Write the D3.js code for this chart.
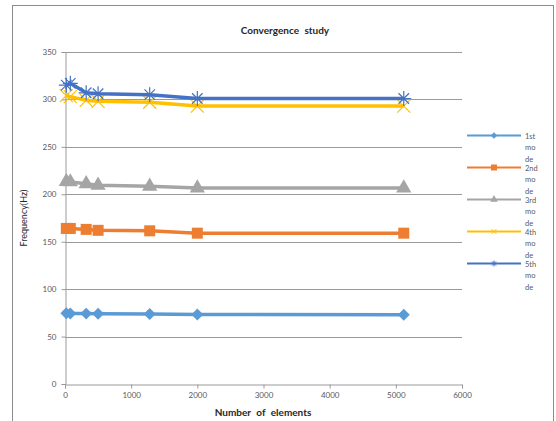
<!DOCTYPE html>
<html>
<head>
<meta charset="utf-8">
<script src="https://cdn.jsdelivr.net/npm/d3@7"></script>
<style>
  body { margin: 0; background: #fff; }
  text { font-family: Lato, "Open Sans", sans-serif; }
</style>
</head>
<body>
<div id="chart"></div>
<script>
const width = 556, height = 421;

// data
const elements = [20, 80, 320, 500, 1280, 2000, 5120];
const mode1 = [74.5, 74.4, 74.2, 74, 73.8, 73.2, 73];
const mode2 = [164, 164, 163, 162, 161.5, 159, 159];
const mode3 = [213.5, 213, 211, 209.5, 208.5, 206.5, 206.5];
const mode4 = [304, 303, 299, 298, 297, 293, 293];
const mode5 = [315, 317, 307, 306, 305, 301, 301];
const seriesNames = ["1st mode", "2nd mode", "3rd mode", "4th mode", "5th mode"];
const seriesColors = ["#5b9bd5", "#ed7d31", "#a5a5a5", "#ffc000", "#4472c4"];
const seriesShapes = ["diamond", "square", "triangle", "x", "star"];
const xTicks = [0, 1000, 2000, 3000, 4000, 5000, 6000];
const yTicks = [0, 50, 100, 150, 200, 250, 300, 350];

const allValues = [mode1, mode2, mode3, mode4, mode5];

const margin = {left: 65, top: 52, right: 94, bottom: 37};

const x = d3.scaleLinear().domain([0, 6000]).range([margin.left, width - margin.right]);
const y = d3.scaleLinear().domain([0, 350]).range([height - margin.bottom, margin.top]);

const svg = d3.select("#chart").append("svg")
    .attr("width", width)
    .attr("height", height);

// outer chart border
svg.append("rect")
    .attr("x", 12.5).attr("y", 5.5)
    .attr("width", 541).attr("height", 430)
    .attr("fill", "none")
    .attr("stroke", "#8c8c8c")
    .attr("stroke-width", 1);

// gridlines
svg.append("g")
  .selectAll("line")
  .data(yTicks.slice(1))
  .enter().append("line")
    .attr("x1", x(0)).attr("x2", x(6000))
    .attr("y1", d => Math.round(y(d)) + 0.5)
    .attr("y2", d => Math.round(y(d)) + 0.5)
    .attr("stroke", "#9a9a9a")
    .attr("stroke-width", 1);

// axes
const xAxis = svg.append("g")
    .attr("transform", "translate(0," + (Math.round(y(0)) + 0.5) + ")")
    .call(d3.axisBottom(x).tickValues(xTicks).tickSize(4).tickPadding(4).tickFormat(d3.format("d")));

const yAxis = svg.append("g")
    .attr("transform", "translate(" + (Math.round(x(0)) + 0.5) + ",0)")
    .call(d3.axisLeft(y).tickValues(yTicks).tickSize(4).tickPadding(5));

[xAxis, yAxis].forEach(function(g) {
  g.select(".domain").attr("stroke", "#9a9a9a");
  g.selectAll(".tick line").attr("stroke", "#9a9a9a");
  g.selectAll(".tick text")
    .attr("fill", "#595959")
    .style("font-size", "8px");
});

// marker shapes
function marker(shape, size) {
  switch (shape) {
    case "diamond":
      return d3.symbol().type(d3.symbolDiamond2).size(size * size * 0.75)();
    case "square":
      return d3.symbol().type(d3.symbolSquare).size(size * size)();
    case "triangle":
      return d3.symbol().type(d3.symbolTriangle).size(size * size * 0.7)();
    case "x":
      return d3.symbol().type(d3.symbolX).size(size * size * 0.5)();
    default: {
      const r = size / 2;
      return "M" + (-r) + ",0L" + r + ",0M" + (-r * 0.7) + "," + (-r * 0.7) + "L" + (r * 0.7) + "," + (r * 0.7)
        + "M" + (-r * 0.7) + "," + (r * 0.7) + "L" + (r * 0.7) + "," + (-r * 0.7)
        + "M0," + (-r) + "L0," + r;
    }
  }
}
const markerSize = [11, 11, 12, 15, 15];

const line = d3.line()
    .x(d => x(d[0]))
    .y(d => y(d[1]));

allValues.forEach(function(vals, i) {
  const pts = elements.map((e, j) => [e, vals[j]]);
  const g = svg.append("g");
  g.append("path")
    .datum(pts)
    .attr("d", line)
    .attr("fill", "none")
    .attr("stroke", seriesColors[i])
    .attr("stroke-width", 3.5)
    .attr("stroke-linejoin", "round");
  const stroked = seriesShapes[i] === "x" || seriesShapes[i] === "star";
  g.selectAll("path.mk")
    .data(pts)
    .enter().append("path")
    .attr("class", "mk")
    .attr("transform", d => "translate(" + x(d[0]) + "," + y(d[1]) + ")")
    .attr("d", marker(seriesShapes[i], markerSize[i]))
    .attr("fill", stroked ? "none" : seriesColors[i])
    .attr("stroke", seriesColors[i])
    .attr("stroke-width", stroked ? 1.2 : 0);
});

// title
svg.append("text")
    .attr("x", 285).attr("y", 34)
    .attr("text-anchor", "middle")
    .style("font-weight", "bold")
    .style("font-size", "10px")
    .attr("fill", "#262626")
    .attr("word-spacing", "3px")
    .text("Convergence study");

svg.append("text")
    .attr("x", 263).attr("y", 416)
    .attr("text-anchor", "middle")
    .style("font-weight", "bold")
    .style("font-size", "10px")
    .attr("fill", "#262626")
    .attr("word-spacing", "3px")
    .text("Number of elements");

svg.append("text")
    .attr("transform", "translate(27,218) rotate(-90)")
    .attr("text-anchor", "middle")
    .style("font-size", "9px")
    .attr("fill", "#262626")
    .text("Frequency(Hz)");

// legend
const legend = svg.append("g");
seriesNames.forEach(function(name, i) {
  const ly = 135.5 + i * 32;
  legend.append("line")
    .attr("x1", 467).attr("x2", 521)
    .attr("y1", ly).attr("y2", ly)
    .attr("stroke", seriesColors[i])
    .attr("stroke-width", 2);
  const stroked = seriesShapes[i] === "x" || seriesShapes[i] === "star";
  legend.append("path")
    .attr("transform", "translate(494," + ly + ")")
    .attr("d", marker(seriesShapes[i], 6))
    .attr("fill", stroked ? "none" : seriesColors[i])
    .attr("stroke", seriesColors[i])
    .attr("stroke-width", stroked ? 1 : 0);
  const parts = [name.split(" ")[0], "mo", "de"];
  parts.forEach(function(p, k) {
    legend.append("text")
      .attr("x", 525).attr("y", ly + 3 + k * 11.5)
      .style("font-size", "7.5px")
      .attr("fill", "#595959")
      .text(p);
  });
});
</script>
</body>
</html>
